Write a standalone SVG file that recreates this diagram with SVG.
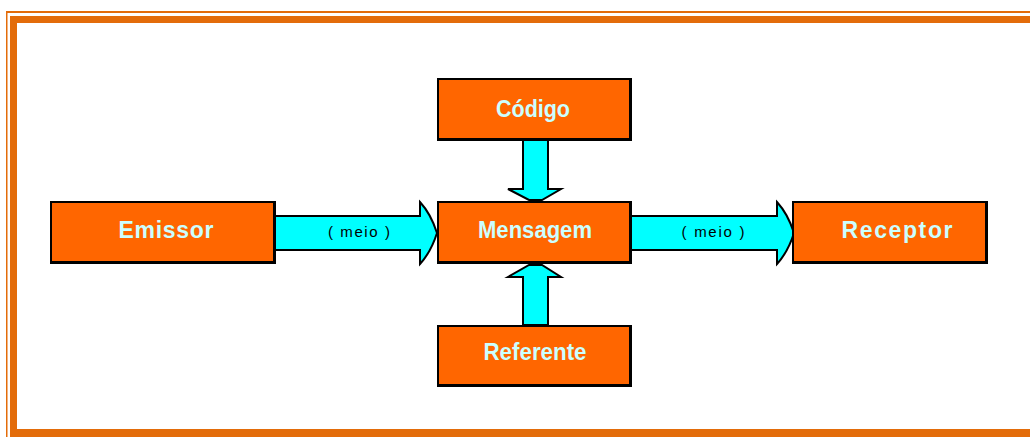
<svg xmlns="http://www.w3.org/2000/svg" width="1030" height="437" viewBox="0 0 1030 437">
<style>
.frame{fill:#E36C0A}
.edge{fill:#000}
.box{fill:#FF6600}
.lbl{font-family:"Liberation Sans",Arial,sans-serif;font-weight:bold;font-size:23px;fill:#CCFFFF;text-anchor:middle}
.arrow{fill:#00FFFF;stroke:#000;stroke-width:2;stroke-linejoin:miter}
.meio{font-family:"Liberation Sans",Arial,sans-serif;font-size:15px;fill:#000;text-anchor:middle}
</style>
<rect width="1030" height="437" fill="#FFFFFF"/>
<g id="frame">
<rect class="frame" x="6" y="11" width="1024" height="2"/>
<rect class="frame" x="6" y="11" width="1.5" height="426"/>
<rect class="frame" x="10" y="16" width="1020" height="7"/>
<rect class="frame" x="10" y="16" width="7" height="421"/>
<rect class="frame" x="10" y="429" width="1020" height="8"/>
</g>
<g id="connectors">
<path class="arrow" d="M275,216 H420 V202 Q431,214 437,233 Q431,252 420,264 V250 H275 Z"/>
<text class="meio" x="359" y="237" textLength="62" lengthAdjust="spacing">( meio )</text>
<path class="arrow" d="M631,216 H777 V202 Q788,214 794,233 Q788,252 777,264 V250 H631 Z"/>
<text class="meio" x="713" y="237" textLength="63" lengthAdjust="spacing">( meio )</text>
<path class="arrow" d="M523,140 V189 H508 L529,200 H542 L561,189 H548 V140 Z"/>
<path class="arrow" d="M523,325 V277 H508 L529,265 H542 L561,277 H548 V325 Z"/>
</g>
<g id="emissor">
<rect class="edge" x="50" y="201" width="226" height="63"/>
<rect class="box" x="52" y="203" width="221" height="58"/>
<text class="lbl" x="166" y="238" textLength="95" lengthAdjust="spacing">Emissor</text>
</g>
<g id="codigo">
<rect class="edge" x="437" y="78" width="195" height="63"/>
<rect class="box" x="439" y="80" width="190" height="58"/>
<text class="lbl" x="533" y="117" textLength="74" lengthAdjust="spacingAndGlyphs">Código</text>
</g>
<g id="mensagem">
<rect class="edge" x="437" y="201" width="195" height="63"/>
<rect class="box" x="439" y="203" width="190" height="58"/>
<text class="lbl" x="535" y="238" textLength="114" lengthAdjust="spacingAndGlyphs">Mensagem</text>
</g>
<g id="referente">
<rect class="edge" x="437" y="325" width="195" height="62"/>
<rect class="box" x="439" y="327" width="190" height="57"/>
<text class="lbl" x="535" y="360" textLength="103" lengthAdjust="spacingAndGlyphs">Referente</text>
</g>
<g id="receptor">
<rect class="edge" x="792" y="201" width="196" height="63"/>
<rect class="box" x="794" y="203" width="191" height="58"/>
<text class="lbl" x="897" y="238" textLength="111" lengthAdjust="spacing">Receptor</text>
</g>
</svg>
